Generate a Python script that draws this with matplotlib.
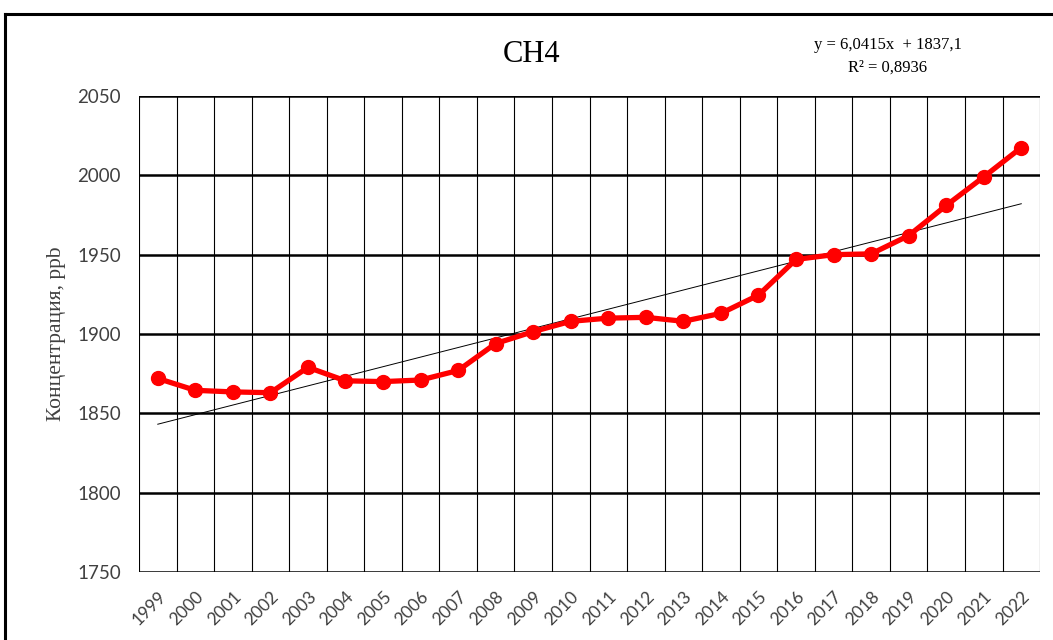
import numpy as np
import matplotlib
matplotlib.use("Agg")
import matplotlib.pyplot as plt
from matplotlib.lines import Line2D

# annual mean CH4 concentration, ppb
years = [str(y) for y in range(1999, 2023)]
ch4 = [1872, 1864.5, 1863.5, 1863, 1879, 1870.5, 1870, 1871, 1877, 1894,
       1901.5, 1908, 1910, 1910.5, 1908, 1913, 1924.5, 1947, 1950, 1950.5,
       1962, 1981, 1999, 2017.5]

# linear trend as reported on the chart
slope, intercept, r2 = 6.0415, 1837.1, 0.8936

serif = "Liberation Serif"
sans = ["Lato", "Liberation Sans"]
label_grey = "#404040"

fig = plt.figure(figsize=(10.53, 6.4), dpi=100)
ax = fig.add_axes([0.132, 0.10625, 0.8557, 0.74375])

n = len(years)
x = np.arange(n)

# category grid: vertical lines between categories, thick horizontal lines
for b in np.arange(n + 1) - 0.5:
    ax.axvline(b, color="black", lw=0.8, zorder=1)
for v in range(1750, 2051, 50):
    ax.axhline(v, color="black", lw=1.8, zorder=1)

trend_x = np.arange(1, n + 1)
ax.plot(x, slope * trend_x + intercept, color="black", lw=0.7, zorder=2)
ax.plot(x, ch4, color="#ff0000", lw=3.8, marker="o", markersize=10, zorder=3)

ax.set_xlim(-0.5, n - 0.5)
ax.set_ylim(1750, 2050)
ax.set_yticks(range(1750, 2051, 50))
ax.set_xticks(x)
ax.set_xticklabels(years, rotation=45, ha="right", rotation_mode="anchor",
                   family=sans, fontsize=12.5, color=label_grey)
for lab in ax.get_yticklabels():
    lab.set_family(sans)
    lab.set_fontsize(13.5)
    lab.set_color(label_grey)
ax.tick_params(axis="y", length=0, pad=13)
ax.tick_params(axis="x", length=0, pad=12)
for s in ax.spines.values():
    s.set_visible(False)

ax.set_ylabel("Концентрация, ppb", family=serif, fontsize=15.5, color=label_grey,
              labelpad=8)

fig.text(0.505, 0.915, "CH4", family=serif, fontsize=22, ha="center", va="center")
fig.text(0.843, 0.93, "y = 6,0415x  + 1837,1", family=serif, fontsize=12,
         ha="center", va="center")
fig.text(0.843, 0.895, "R² = 0,8936", family=serif, fontsize=12,
         ha="center", va="center")

# outer frame of the chart area
fig.add_artist(Line2D([0.005, 0.005], [0.0, 0.978], color="black", lw=2.2))
fig.add_artist(Line2D([0.005, 1.0], [0.978, 0.978], color="black", lw=2.2))

fig.savefig("out.png", dpi=100)
